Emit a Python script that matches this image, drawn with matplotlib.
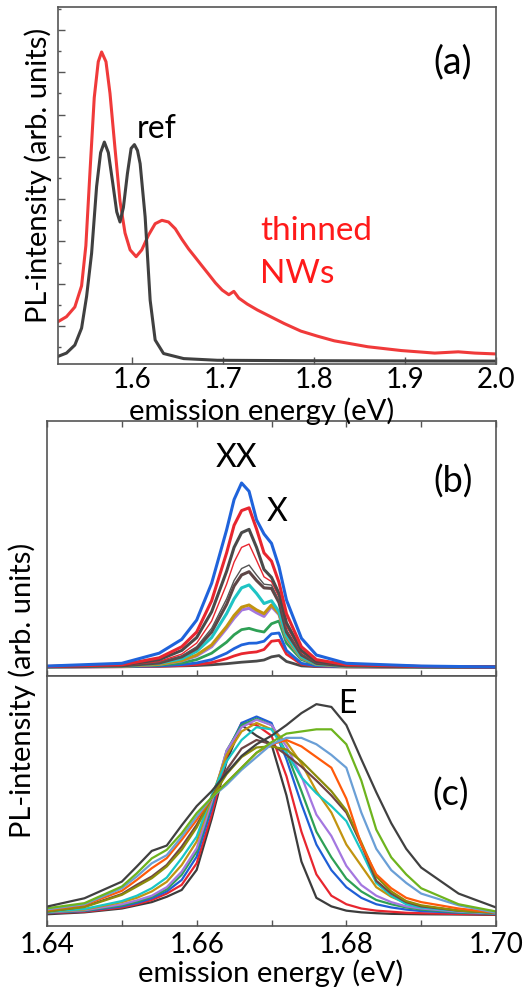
import matplotlib
matplotlib.use('Agg')
import matplotlib.pyplot as plt
from matplotlib.ticker import MultipleLocator, FormatStrFormatter
import numpy as np

plt.rcParams['font.family'] = ['Lato', 'DejaVu Sans']

GREY = '#555555'

# ---- (a) overview: thinned NWs vs reference ----
E_thin = [1.5188, 1.5283, 1.5375, 1.5449, 1.5496, 1.5540, 1.5588, 1.5632, 1.5669, 1.5717,
          1.5761, 1.5816, 1.5871, 1.5926, 1.5982, 1.6048, 1.6110, 1.6184, 1.6257, 1.6331,
          1.6404, 1.6478, 1.6551, 1.6625, 1.6699, 1.6772, 1.6846, 1.6919, 1.6993, 1.7066,
          1.7121, 1.7176, 1.7268, 1.7379, 1.7489, 1.7673, 1.7857, 1.8040, 1.8224, 1.8592,
          1.8960, 1.9327, 1.9585, 1.9768, 2.0]
I_thin = [1.10, 1.22, 1.45, 1.95, 2.9, 4.6, 6.4, 7.25, 7.48, 7.25,
          6.5, 5.2, 3.95, 3.2, 2.8, 2.64, 2.8, 3.15, 3.42, 3.5,
          3.46, 3.3, 3.05, 2.82, 2.62, 2.42, 2.22, 2.02, 1.85, 1.74,
          1.82, 1.66, 1.52, 1.38, 1.26, 1.06, 0.88, 0.76, 0.65, 0.51,
          0.42, 0.36, 0.39, 0.36, 0.34]

E_ref = [1.5188, 1.5283, 1.5375, 1.5449, 1.5504, 1.5559, 1.5614, 1.5658, 1.5699, 1.5743,
         1.5790, 1.5835, 1.5871, 1.5908, 1.5952, 1.5993, 1.6029, 1.6063, 1.6092, 1.6147,
         1.6202, 1.6257, 1.6349, 1.6570, 1.6938, 1.7857, 2.0]
I_ref = [0.28, 0.36, 0.55, 0.95, 1.7, 2.72, 4.3, 5.1, 5.35, 5.1,
         4.4, 3.7, 3.46, 3.8, 4.6, 5.2, 5.29, 5.15, 4.84, 3.58,
         1.61, 0.67, 0.35, 0.23, 0.19, 0.18, 0.17]

# ---- (b) power series (XX / X) ----
E_b = [1.640, 1.650, 1.655, 1.658, 1.660, 1.662, 1.664, 1.665, 1.666, 1.667,
       1.668, 1.669, 1.670, 1.671, 1.672, 1.674, 1.676, 1.680, 1.690, 1.700]
b01 = [0.005, 0.02, 0.075, 0.15, 0.255, 0.455, 0.745, 0.91, 1.0, 0.955, 0.80, 0.723, 0.672, 0.545, 0.364, 0.156, 0.065, 0.02, 0.005, 0.0]
b02 = [0.003, 0.012, 0.05, 0.11, 0.19, 0.36, 0.62, 0.77, 0.85, 0.865, 0.75, 0.62, 0.575, 0.46, 0.29, 0.11, 0.04, 0.012, 0.003, 0.0]
b03 = [0.002, 0.01, 0.04, 0.09, 0.16, 0.30, 0.52, 0.65, 0.73, 0.748, 0.65, 0.53, 0.487, 0.40, 0.24, 0.09, 0.03, 0.01, 0.002, 0.0]
b04 = [0.002, 0.008, 0.03, 0.07, 0.13, 0.25, 0.45, 0.57, 0.65, 0.668, 0.58, 0.49, 0.464, 0.38, 0.22, 0.08, 0.025, 0.008, 0.002, 0.0]
b05 = [0.002, 0.006, 0.025, 0.06, 0.11, 0.21, 0.37, 0.47, 0.535, 0.554, 0.50, 0.45, 0.445, 0.36, 0.20, 0.07, 0.02, 0.006, 0.001, 0.0]
b06 = [0.002, 0.006, 0.022, 0.055, 0.10, 0.19, 0.34, 0.44, 0.50, 0.518, 0.47, 0.43, 0.427, 0.35, 0.19, 0.065, 0.02, 0.006, 0.001, 0.0]
b07 = [0.001, 0.005, 0.02, 0.045, 0.085, 0.16, 0.29, 0.37, 0.43, 0.446, 0.40, 0.345, 0.36, 0.30, 0.17, 0.055, 0.017, 0.005, 0.001, 0.0]
b08 = [0.001, 0.004, 0.015, 0.035, 0.065, 0.12, 0.22, 0.28, 0.325, 0.337, 0.31, 0.29, 0.337, 0.29, 0.16, 0.05, 0.015, 0.004, 0.0, 0.0]
b09 = [0.001, 0.004, 0.014, 0.033, 0.06, 0.11, 0.21, 0.265, 0.31, 0.319, 0.295, 0.275, 0.328, 0.285, 0.155, 0.048, 0.014, 0.004, 0.0, 0.0]
b10 = [0.001, 0.003, 0.01, 0.022, 0.04, 0.075, 0.135, 0.175, 0.203, 0.21, 0.198, 0.19, 0.235, 0.25, 0.13, 0.04, 0.012, 0.003, 0.0, 0.0]
b11 = [0.0, 0.002, 0.006, 0.013, 0.022, 0.04, 0.075, 0.10, 0.12, 0.129, 0.13, 0.14, 0.18, 0.185, 0.09, 0.02, 0.006, 0.002, 0.0, 0.0]
b12 = [0.0, 0.001, 0.004, 0.008, 0.013, 0.024, 0.045, 0.06, 0.072, 0.078, 0.082, 0.095, 0.14, 0.145, 0.07, 0.015, 0.004, 0.001, 0.0, 0.0]
b13 = [0.0, 0.002, 0.004, 0.006, 0.008, 0.012, 0.018, 0.022, 0.026, 0.029, 0.032, 0.038, 0.055, 0.062, 0.03, 0.006, 0.002, 0.0, 0.0, 0.0]

# ---- (c) series shifting towards E ----
E_c = [1.640, 1.645, 1.650, 1.652, 1.654, 1.656, 1.658, 1.660, 1.662, 1.664,
       1.666, 1.668, 1.670, 1.672, 1.674, 1.676, 1.678, 1.680, 1.682, 1.684,
       1.686, 1.688, 1.690, 1.695, 1.700]
c01 = [0.003, 0.012, 0.03, 0.045, 0.06, 0.085, 0.117, 0.211, 0.45, 0.72, 0.89, 0.84, 0.80, 0.56, 0.25, 0.08, 0.04, 0.02, 0.012, 0.008, 0.005, 0.004, 0.003, 0.002, 0.0]
c02 = [0.008, 0.015, 0.035, 0.05, 0.07, 0.10, 0.141, 0.242, 0.47, 0.74, 0.90, 0.89, 0.84, 0.65, 0.39, 0.19, 0.09, 0.05, 0.03, 0.02, 0.015, 0.01, 0.008, 0.004, 0.002]
c03 = [0.01, 0.018, 0.04, 0.056, 0.078, 0.11, 0.164, 0.273, 0.50, 0.76, 0.90, 0.93, 0.90, 0.73, 0.52, 0.33, 0.21, 0.13, 0.08, 0.05, 0.035, 0.025, 0.018, 0.01, 0.005]
c04 = [0.012, 0.02, 0.045, 0.062, 0.085, 0.12, 0.188, 0.297, 0.52, 0.77, 0.89, 0.92, 0.89, 0.76, 0.58, 0.39, 0.27, 0.17, 0.11, 0.07, 0.05, 0.035, 0.025, 0.012, 0.006]
c05 = [0.012, 0.022, 0.05, 0.068, 0.09, 0.13, 0.203, 0.312, 0.53, 0.77, 0.88, 0.915, 0.89, 0.79, 0.65, 0.47, 0.37, 0.23, 0.14, 0.09, 0.06, 0.04, 0.03, 0.015, 0.007]
c06 = [0.014, 0.025, 0.06, 0.08, 0.11, 0.155, 0.234, 0.344, 0.55, 0.75, 0.86, 0.90, 0.87, 0.81, 0.71, 0.58, 0.48, 0.33, 0.23, 0.13, 0.085, 0.055, 0.04, 0.02, 0.01]
c07 = [0.014, 0.028, 0.065, 0.09, 0.125, 0.175, 0.266, 0.367, 0.56, 0.72, 0.82, 0.88, 0.87, 0.76, 0.645, 0.57, 0.51, 0.44, 0.30, 0.15, 0.09, 0.05, 0.035, 0.018, 0.008]
c08 = [0.016, 0.039, 0.098, 0.141, 0.18, 0.234, 0.32, 0.422, 0.55, 0.68, 0.78, 0.82, 0.80, 0.75, 0.695, 0.63, 0.56, 0.48, 0.33, 0.16, 0.10, 0.06, 0.04, 0.02, 0.01]
c09 = [0.016, 0.037, 0.094, 0.133, 0.172, 0.227, 0.305, 0.41, 0.55, 0.66, 0.74, 0.785, 0.79, 0.775, 0.72, 0.65, 0.58, 0.49, 0.34, 0.18, 0.11, 0.065, 0.045, 0.02, 0.01]
c10 = [0.023, 0.047, 0.113, 0.164, 0.219, 0.266, 0.352, 0.445, 0.55, 0.62, 0.69, 0.76, 0.80, 0.82, 0.79, 0.74, 0.69, 0.545, 0.33, 0.19, 0.125, 0.08, 0.06, 0.03, 0.01]
c11 = [0.026, 0.05, 0.125, 0.18, 0.242, 0.28, 0.367, 0.461, 0.55, 0.61, 0.68, 0.74, 0.80, 0.83, 0.83, 0.80, 0.75, 0.69, 0.48, 0.31, 0.21, 0.15, 0.10, 0.045, 0.01]
c12 = [0.031, 0.055, 0.133, 0.195, 0.265, 0.305, 0.383, 0.477, 0.55, 0.62, 0.69, 0.76, 0.81, 0.85, 0.86, 0.87, 0.87, 0.80, 0.63, 0.40, 0.27, 0.19, 0.125, 0.05, 0.016]
c13 = [0.039, 0.078, 0.156, 0.227, 0.30, 0.325, 0.42, 0.51, 0.58, 0.665, 0.745, 0.80, 0.84, 0.89, 0.946, 0.988, 0.975, 0.89, 0.73, 0.575, 0.43, 0.31, 0.222, 0.10, 0.035]

b_series = [(b13, '#4a4a4a', 2.0), (b12, '#e8262f', 2.0), (b11, '#1f63db', 2.0),
            (b10, '#2ea055', 2.0), (b09, '#a477e0', 2.2), (b08, '#c29410', 2.2),
            (b07, '#1fc4c4', 2.2), (b06, '#5e4646', 2.2), (b05, '#555555', 1.0),
            (b04, '#e8262f', 1.0), (b03, '#4a4a4a', 2.2), (b02, '#e8262f', 2.2),
            (b01, '#1f63db', 2.2)]
c_series = [(c01, '#3c3c3c'), (c02, '#e8262f'), (c03, '#1f5fd6'), (c04, '#2ea055'),
            (c05, '#a477e0'), (c06, '#c29410'), (c07, '#19c6c6'), (c08, '#6e4545'),
            (c09, '#8c8c0a'), (c10, '#ff5a0a'), (c11, '#6a9fd6'), (c12, '#6eb41e'),
            (c13, '#404040')]


def style_box(ax):
    for s in ax.spines.values():
        s.set_color(GREY)
        s.set_linewidth(1.2)
    ax.tick_params(which='both', direction='in', color=GREY, labelsize=20,
                   labelcolor='black', width=1.0)


fig = plt.figure(figsize=(5.29, 9.9), dpi=100)
ax_a = fig.add_axes([58/529, 1-364/990, 438/529, 357/990])
ax_b = fig.add_axes([47/529, 1-676/990, 449/529, 255/990])
ax_c = fig.add_axes([47/529, 1-926/990, 449/529, 250/990])

# (a)
ax_a.plot(E_thin, I_thin, color='#f03a3a', lw=2.2)
ax_a.plot(E_ref, I_ref, color='#404040', lw=2.2)
ax_a.set_xlim(1.519, 2.0)
ax_a.set_ylim(0.102, 8.544)
style_box(ax_a)
ax_a.xaxis.set_major_locator(MultipleLocator(0.1))
ax_a.xaxis.set_major_formatter(FormatStrFormatter('%.1f'))
ax_a.yaxis.set_major_locator(MultipleLocator(1))
ax_a.yaxis.set_minor_locator(MultipleLocator(0.5))
ax_a.tick_params(axis='y', labelleft=False)
ax_a.tick_params(axis='y', which='major', length=5)
ax_a.tick_params(axis='y', which='minor', length=2.5)
ax_a.tick_params(axis='x', length=5, pad=2)
ax_a.text(0.90, 0.846, '(a)', transform=ax_a.transAxes, fontsize=27,
          ha='center', va='center',
          bbox=dict(facecolor='white', edgecolor='none', pad=2))
ax_a.text(0.18, 0.634, 'ref', transform=ax_a.transAxes, fontsize=23,
          ha='left', va='baseline')
ax_a.text(0.461, 0.347, 'thinned', transform=ax_a.transAxes, fontsize=24,
          color='#ff1a1a', ha='left', va='baseline')
ax_a.text(0.461, 0.227, 'NWs', transform=ax_a.transAxes, fontsize=24,
          color='#ff1a1a', ha='left', va='baseline')

# (b)
for vals, col, lw in b_series:
    ax_b.plot(E_b, vals, color=col, lw=lw)
ax_b.set_xlim(1.64, 1.70)
ax_b.set_ylim(-0.049, 1.337)
style_box(ax_b)
ax_b.xaxis.set_major_locator(MultipleLocator(0.02))
ax_b.xaxis.set_minor_locator(MultipleLocator(0.01))
ax_b.tick_params(axis='x', which='both', top=True, bottom=True,
                 labelbottom=False, length=4.5)
ax_b.tick_params(axis='y', left=False, labelleft=False)
ax_b.text(0.421, 0.855, 'XX', transform=ax_b.transAxes, fontsize=23,
          ha='center', va='center')
ax_b.text(0.512, 0.643, 'X', transform=ax_b.transAxes, fontsize=23,
          ha='center', va='center')
ax_b.text(0.904, 0.761, '(b)', transform=ax_b.transAxes, fontsize=26,
          ha='center', va='center',
          bbox=dict(facecolor='white', edgecolor='none', pad=2))

# (c)
for vals, col in c_series:
    ax_c.plot(E_c, vals, color=col, lw=1.6)
ax_c.set_xlim(1.64, 1.70)
ax_c.set_ylim(-0.052, 1.12)
style_box(ax_c)
ax_c.xaxis.set_major_locator(MultipleLocator(0.02))
ax_c.xaxis.set_minor_locator(MultipleLocator(0.01))
ax_c.xaxis.set_major_formatter(FormatStrFormatter('%.2f'))
ax_c.tick_params(axis='x', which='both', length=4.5, pad=4)
ax_c.tick_params(axis='y', left=False, labelleft=False)
ax_c.text(0.668, 0.888, 'E', transform=ax_c.transAxes, fontsize=23,
          ha='center', va='center')
ax_c.text(0.90, 0.524, '(c)', transform=ax_c.transAxes, fontsize=26,
          ha='center', va='center',
          bbox=dict(facecolor='white', edgecolor='none', pad=2))

# axis labels
fig.text(262/529, 1-411/990, 'emission energy (eV)', fontsize=21,
         ha='center', va='center')
fig.text(271/529, 1-973/990, 'emission energy (eV)', fontsize=21,
         ha='center', va='center')
fig.text(38/529, 1-175/990, 'PL-intensity (arb. units)', fontsize=21,
         rotation=90, ha='center', va='center')
fig.text(22/529, 1-690/990, 'PL-intensity (arb. units)', fontsize=21,
         rotation=90, ha='center', va='center')

fig.savefig('out.png', dpi=100, facecolor='white')
